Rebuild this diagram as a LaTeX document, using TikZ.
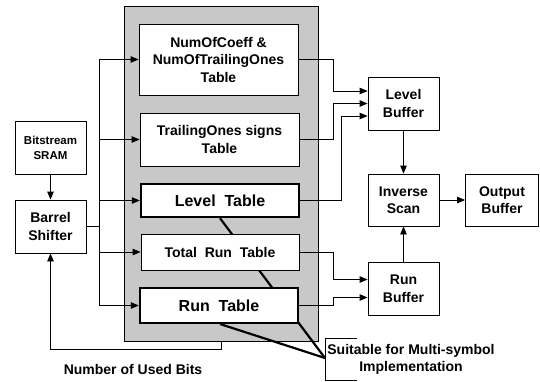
\documentclass[tikz,border=0pt]{standalone}
\usepackage{fontspec}
\setmainfont{Liberation Sans}
\usetikzlibrary{arrows.meta,calc}
\definecolor{panelgray}{RGB}{200,200,200}
\tikzset{
  box/.style={draw=black, line width=0.8pt, fill=white, align=center, inner sep=0pt,
    font=\fontsize{14}{17.5}\selectfont\bfseries},
  thickbox/.style={box, line width=2.4pt, font=\fontsize{16}{19}\selectfont\bfseries},
  conn/.style={draw=black, line width=0.8pt},
  arr/.style={conn, -{Triangle[length=8pt,width=6.5pt]}},
  multi/.style={draw=black, line width=2.2pt},
  lbl/.style={align=center, inner sep=0pt, font=\fontsize{14}{17.5}\selectfont\bfseries}
}
\begin{document}
\begin{tikzpicture}[x=1pt,y=-1pt]
\useasboundingbox (0,0) rectangle (540,381);
% panel
\node[draw=black, line width=1pt, fill=panelgray, minimum width=194pt, minimum height=335pt, inner sep=0pt] (panel) at (221,173.5) {};
% tables
\node[box, minimum width=159pt, minimum height=71pt] (coeff) at (218.5,59.5) {NumOfCoeff \&\\NumOfTrailingOnes\\Table};
\node[box, minimum width=159pt, minimum height=53pt] (tones) at (219.5,139.5) {TrailingOnes signs\\Table};
\node[thickbox, minimum width=158pt, minimum height=33pt] (level) at (220,200.5) {Level\ \ Table};
\coordinate (apex) at (325,358);
\draw[multi] ($(level.south)+(0,0)$) -- (apex);
\node[box, minimum width=158pt, minimum height=36pt] (totrun) at (220,252) {Total\ \ Run\ \ Table};
\node[thickbox, minimum width=158pt, minimum height=35pt] (run) at (219,305.5) {Run\ \ Table};
\draw[multi] (220,324) -- (apex);
% left blocks
\node[box, minimum width=71pt, minimum height=53pt, font=\fontsize{11.5}{15}\selectfont\bfseries] (sram) at (50.5,147.5) {Bitstream\\SRAM};
\node[box, minimum width=71pt, minimum height=53pt] (barrel) at (50.5,226.5) {Barrel\\Shifter};
% right blocks
\node[box, minimum width=71pt, minimum height=53pt] (lbuf) at (403.5,103.5) {Level\\Buffer};
\node[box, minimum width=71pt, minimum height=52pt] (iscan) at (403.5,200) {Inverse\\Scan};
\node[box, minimum width=73pt, minimum height=52pt] (obuf) at (502,200) {Output\\Buffer};
\node[box, minimum width=71pt, minimum height=53pt] (rbuf) at (403.5,288.5) {Run\\Buffer};
% bus
\coordinate (bus) at (99,0);
\draw[arr] (sram.south) -- (barrel.north);
\draw[conn] (barrel.east) -- (barrel.east -| bus);
\draw[conn] (coeff.west -| bus) -- (run.west -| bus);
\foreach \t in {coeff,tones,level,totrun,run}
  \draw[arr] (\t.west -| bus) -- (\t.west);
% to level buffer
\draw[arr] (coeff.east) -| ($(lbuf.west)+(-34,-12.5)$) -- ($(lbuf.west)+(0,-12.5)$);
\draw[arr] (tones.east) -| ($(lbuf.west)+(-34,0)$) -- (lbuf.west);
\draw[arr] (level.east) -| ($(lbuf.west)+(-26,12.5)$) -- ($(lbuf.west)+(0,12.5)$);
% to run buffer
\draw[arr] (totrun.east) -| ($(rbuf.west)+(-34,-9)$) -- ($(rbuf.west)+(0,-9)$);
\draw[arr] (run.east) -| ($(rbuf.west)+(-34,9)$) -- ($(rbuf.west)+(0,9)$);
\draw[arr] (lbuf.south) -- (iscan.north);
\draw[arr] (rbuf.north) -- (iscan.south);
\draw[arr] (iscan.east) -- (obuf.west);
% feedback
\draw[arr] (panel.south) -- ++(0,8) -| (barrel.south);
\node[lbl] (used) at (133,369) {Number of Used Bits};
% bracket
\draw[conn] (357,338) -- (325,338) -- (325,380) -- (357,380);
\node[lbl] (suit) at (411,359.5) {Suitable for Multi-symbol\\Implementation};
\end{tikzpicture}
\end{document}
